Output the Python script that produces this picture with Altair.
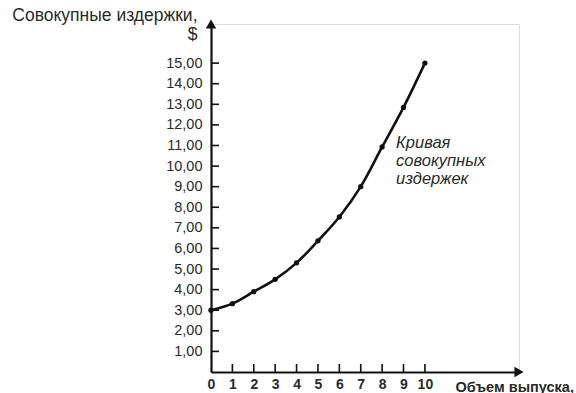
import altair as alt
import pandas as pd

# data
output = [0, 1, 2, 3, 4, 5, 6, 7, 8, 9, 10]
total_cost = [3.00, 3.32, 3.90, 4.50, 5.30, 6.37, 7.53, 9.00, 10.93, 12.85, 15.00]
y_ticks = list(range(1, 16))
x_ticks = list(range(1, 11))
x_labels = list(range(0, 11))
curve_label = ["Кривая", "совокупных", "издержек"]
y_title = ["Совокупные издержки,", "$"]
x_title = "Объем выпуска,"

X_MAX = 14.4
Y_MAX = 16.9
W, H = 308, 348
FONT = "Liberation Sans"
INK = "#111111"
TXT = "#2a2a2a"

df = pd.DataFrame({"q": output, "tc": total_cost})
xs = alt.Scale(domain=[0, X_MAX], nice=False, zero=True)
ys = alt.Scale(domain=[0, Y_MAX], nice=False, zero=True)

x_axis = alt.Axis(
    values=x_labels, ticks=False, tickSize=0, grid=False,
    domainColor=INK, domainWidth=2.2, labelOverlap=False,
    labelFont=FONT, labelFontSize=14, labelFontWeight="bold", labelColor=TXT,
    labelPadding=5, labelFlush=False,
    title=x_title, titleFont=FONT, titleFontSize=14.5, titleFontWeight="bold",
    titleColor=TXT, titleAnchor="start", titleAlign="left",
    titleBaseline="alphabetic", titleX=244, titleY=19,
)
y_axis = alt.Axis(
    values=y_ticks, ticks=False, tickSize=0, grid=False,
    domainColor=INK, domainWidth=2.2, labelOverlap=False,
    labelFont=FONT, labelFontSize=14.5, labelColor=TXT, labelPadding=9,
    labelExpr="replace(format(datum.value, '.2f'), '.', ',')",
    title=y_title, titleFont=FONT, titleFontSize=17.5, titleFontWeight="normal",
    titleColor=TXT, titleAngle=0, titleAlign="right", titleBaseline="top",
    titleX=-14, titleY=-18, titleLineHeight=19,
)

def X(field):
    return alt.X(field, scale=xs, axis=x_axis)

def Y(field):
    return alt.Y(field, scale=ys, axis=y_axis)

base = alt.Chart(df)

line = base.mark_line(interpolate="catmull-rom", color=INK, strokeWidth=2.6).encode(
    x=X("q:Q"), y=Y("tc:Q")
)
pts = base.mark_circle(color=INK, size=28, opacity=1).encode(
    x=X("q:Q"), y=Y("tc:Q")
)

ytick_df = pd.DataFrame({"v": y_ticks})
ytick = alt.Chart(ytick_df).mark_rule(color=INK, strokeWidth=1.6).encode(
    y=Y("v:Q"), x=alt.value(0), x2=alt.value(8)
)
xtick_df = pd.DataFrame({"v": x_ticks})
xtick = alt.Chart(xtick_df).mark_rule(color=INK, strokeWidth=1.6).encode(
    x=X("v:Q"), y=alt.value(H), y2=alt.value(H - 8)
)

arrow_y = alt.Chart(pd.DataFrame({"x": [0], "y": [Y_MAX]})).mark_point(
    shape="triangle-up", filled=True, color=INK, size=110, opacity=1
).encode(x=X("x:Q"), y=Y("y:Q"))
arrow_x = alt.Chart(pd.DataFrame({"x": [X_MAX], "y": [0]})).mark_point(
    shape="triangle-right", filled=True, color=INK, size=110, opacity=1
).encode(x=X("x:Q"), y=Y("y:Q"))

label_df = pd.DataFrame({"q": [output[8]], "tc": [total_cost[8]], "t": [curve_label]})
label = alt.Chart(label_df).mark_text(
    align="left", baseline="top", dx=14, dy=-12, font=FONT, fontSize=16.5,
    fontStyle="italic", color=TXT, lineHeight=18,
).encode(x=X("q:Q"), y=Y("tc:Q"), text="t")

chart = alt.layer(ytick, xtick, line, pts, arrow_y, arrow_x, label).properties(
    width=W, height=H,
    autosize=alt.AutoSizeParams(type="none"),
    padding={"left": 211, "top": 24, "right": 57, "bottom": 21},
).configure_view(stroke=None).configure_axis(labelOverlap=False).configure(background="white")

chart.save("out.html", embed_options={"renderer": "svg", "actions": False})
